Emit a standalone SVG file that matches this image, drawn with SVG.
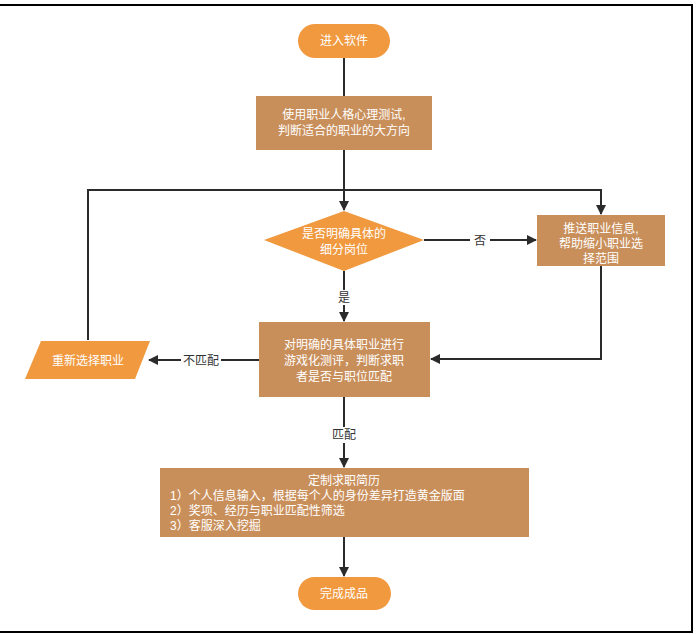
<svg xmlns="http://www.w3.org/2000/svg" width="696" height="634" viewBox="0 0 696 634">
<defs>
<marker id="arr" markerWidth="10" markerHeight="10" refX="9" refY="5" orient="auto" markerUnits="userSpaceOnUse">
<path d="M0,0 L10,5 L0,10 Z" fill="#2b2b2b"/>
</marker>
<style>
.term{fill:#F0993F;}
.proc{fill:#C98F5B;}
.dec{fill:#F0993F;}
.t{font-family:"Liberation Sans","Noto Sans CJK SC",sans-serif;font-size:12px;fill:#ffffff;}
.lbl{font-family:"Liberation Sans","Noto Sans CJK SC",sans-serif;font-size:12px;fill:#333333;}
.ln{stroke:#2b2b2b;stroke-width:2;fill:none;}
</style>
</defs>
<rect width="696" height="634" fill="#ffffff"/>
<path d="M0,5 H692 V632 H0" fill="none" stroke="#000" stroke-width="2"/>

<g id="connectors">
<path class="ln" d="M344,58 V96"/>
<path class="ln" d="M344,150 V210" marker-end="url(#arr)"/>
<path class="ln" d="M88,340 V190 H601 V214" marker-end="url(#arr)"/>
<path class="ln" d="M424,240 H536" marker-end="url(#arr)"/>
<rect x="470" y="232" width="20" height="16" fill="#fff"/>
<text class="lbl" x="480" y="245" text-anchor="middle">否</text>
<path class="ln" d="M344,271 V321" marker-end="url(#arr)"/>
<rect x="335" y="290" width="18" height="15" fill="#fff"/>
<text class="lbl" x="344" y="302" text-anchor="middle">是</text>
<path class="ln" d="M601,266 V359 H431" marker-end="url(#arr)"/>
<path class="ln" d="M259,360 H149" marker-end="url(#arr)"/>
<rect x="181" y="352" width="40" height="16" fill="#fff"/>
<text class="lbl" x="201" y="365" text-anchor="middle">不匹配</text>
<path class="ln" d="M344,397 V467" marker-end="url(#arr)"/>
<rect x="331" y="427" width="26" height="16" fill="#fff"/>
<text class="lbl" x="344" y="439" text-anchor="middle">匹配</text>
<path class="ln" d="M344,537 V576" marker-end="url(#arr)"/>
</g>

<g id="start">
<rect class="term" x="298" y="24" width="92" height="34" rx="17"/>
<text class="t" x="344" y="45" text-anchor="middle">进入软件</text>
</g>

<g id="test">
<rect class="proc" x="256" y="96" width="176" height="54"/>
<text class="t" x="344" y="119" text-anchor="middle">使用职业人格心理测试,</text>
<text class="t" x="344" y="135" text-anchor="middle">判断适合的职业的大方向</text>
</g>

<g id="decision">
<polygon class="dec" points="344,211 424,240 344,271 264,240"/>
<text class="t" x="344" y="238" text-anchor="middle">是否明确具体的</text>
<text class="t" x="344" y="254" text-anchor="middle">细分岗位</text>
</g>

<g id="push">
<rect class="proc" x="537" y="215" width="128" height="51"/>
<text class="t" x="601" y="233" text-anchor="middle">推送职业信息,</text>
<text class="t" x="601" y="248" text-anchor="middle">帮助缩小职业选</text>
<text class="t" x="601" y="263" text-anchor="middle">择范围</text>
</g>

<g id="evaluate">
<rect class="proc" x="259" y="322" width="171" height="75"/>
<text class="t" x="344" y="349" text-anchor="middle">对明确的具体职业进行</text>
<text class="t" x="344" y="365" text-anchor="middle">游戏化测评，判断求职</text>
<text class="t" x="344" y="381" text-anchor="middle">者是否与职位匹配</text>
</g>

<g id="reselect">
<polygon class="term" points="41,341 150,341 135,379 25,379"/>
<text class="t" x="88" y="365" text-anchor="middle">重新选择职业</text>
</g>

<g id="resume">
<rect class="proc" x="160" y="468" width="369" height="69"/>
<text class="t" x="344" y="485" text-anchor="middle">定制求职简历</text>
<text class="t" x="170" y="500">1）个人信息输入，根据每个人的身份差异打造黄金版面</text>
<text class="t" x="170" y="515">2）奖项、经历与职业匹配性筛选</text>
<text class="t" x="170" y="530">3）客服深入挖掘</text>
</g>

<g id="finish">
<rect class="term" x="298" y="577" width="93" height="33" rx="16.5"/>
<text class="t" x="344" y="598" text-anchor="middle">完成成品</text>
</g>
</svg>
